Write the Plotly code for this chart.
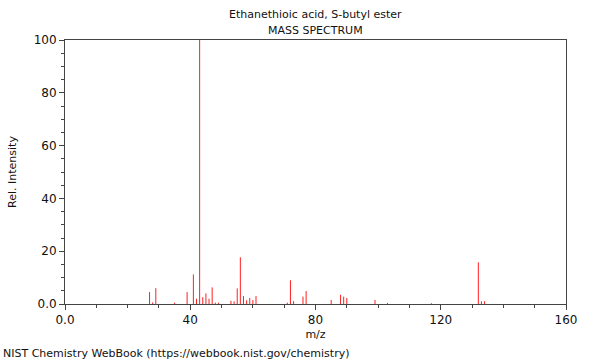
import plotly.graph_objects as go

# m/z values and relative intensities
mz = [27, 28, 29, 35, 39, 41, 42, 43, 44, 45, 46, 47, 48, 49,
      53, 54, 55, 56, 57, 58, 59, 60, 61,
      71, 72, 73, 76, 77, 85, 88, 89, 90, 99, 103, 117, 132, 133, 134]
intensity = [4.5, 0.6, 6.0, 0.5, 4.5, 11.2, 2.0, 100.0, 2.6, 4.0, 2.0, 6.3, 0.5, 0.5,
             1.2, 1.0, 5.9, 17.7, 3.0, 1.4, 2.3, 1.5, 3.0,
             0.5, 9.0, 1.1, 2.8, 4.9, 1.5, 3.5, 2.8, 2.3, 1.5, 0.4, 0.3, 15.8, 1.0, 1.1]

x_ticks = [0, 40, 80, 120, 160]
x_labels = ["0.0", "40", "80", "120", "160"]
y_ticks = [0, 20, 40, 60, 80, 100]
y_labels = ["0.0", "20", "40", "60", "80", "100"]

title_line1 = "Ethanethioic acid, S-butyl ester"
title_line2 = "MASS SPECTRUM"
footer = "NIST Chemistry WebBook (https://webbook.nist.gov/chemistry)"

xs, ys = [], []
for m, h in zip(mz, intensity):
    xs += [m, m, None]
    ys += [0, h, None]

fig = go.Figure()
fig.add_trace(go.Scatter(x=xs, y=ys, mode="lines",
                         line=dict(color="#ff2020", width=1),
                         hoverinfo="skip", showlegend=False))

font_family = "DejaVu Sans"
axis_color = "#444444"

fig.update_layout(
    width=600, height=360,
    margin=dict(l=62, r=34, t=40, b=56),
    paper_bgcolor="white", plot_bgcolor="white",
    font=dict(family=font_family, size=11, color="#111111"),
    showlegend=False,
)
fig.update_xaxes(
    range=[0, 160], tickmode="array", tickvals=x_ticks, ticktext=x_labels,
    ticks="outside", ticklen=5, tickcolor=axis_color, tickwidth=1,
    showline=True, linecolor=axis_color, linewidth=1, mirror=True,
    showgrid=False, zeroline=False,
    tickfont=dict(size=12),
    title=dict(text="m/z", font=dict(size=11), standoff=3),
    minor=dict(tickmode="linear", tick0=0, dtick=10, ticks="outside",
               ticklen=3, tickcolor=axis_color, showgrid=False),
)
fig.update_yaxes(
    range=[0, 100], tickmode="array", tickvals=y_ticks, ticktext=y_labels,
    ticks="outside", ticklen=5, tickcolor=axis_color, tickwidth=1,
    showline=True, linecolor=axis_color, linewidth=1, mirror=True,
    showgrid=False, zeroline=False,
    tickfont=dict(size=12),
    title=dict(text="Rel. Intensity", font=dict(size=11), standoff=14),
    minor=dict(tickmode="linear", tick0=0, dtick=5, ticks="outside",
               ticklen=3, tickcolor=axis_color, showgrid=False),
)

fig.add_annotation(text=title_line1, xref="paper", yref="paper",
                   x=0.5, y=1, yshift=26, showarrow=False,
                   xanchor="center", yanchor="middle", font=dict(size=11))
fig.add_annotation(text=title_line2, xref="paper", yref="paper",
                   x=0.5, y=1, yshift=10, showarrow=False,
                   xanchor="center", yanchor="middle", font=dict(size=11))
fig.add_annotation(text=footer, xref="paper", yref="paper",
                   x=0, xshift=-64, y=0, yshift=-49, showarrow=False,
                   xanchor="left", yanchor="middle", font=dict(size=11))

fig.write_html("out.html", config={"displayModeBar": False},
               post_script="document.body.style.margin='0';")
